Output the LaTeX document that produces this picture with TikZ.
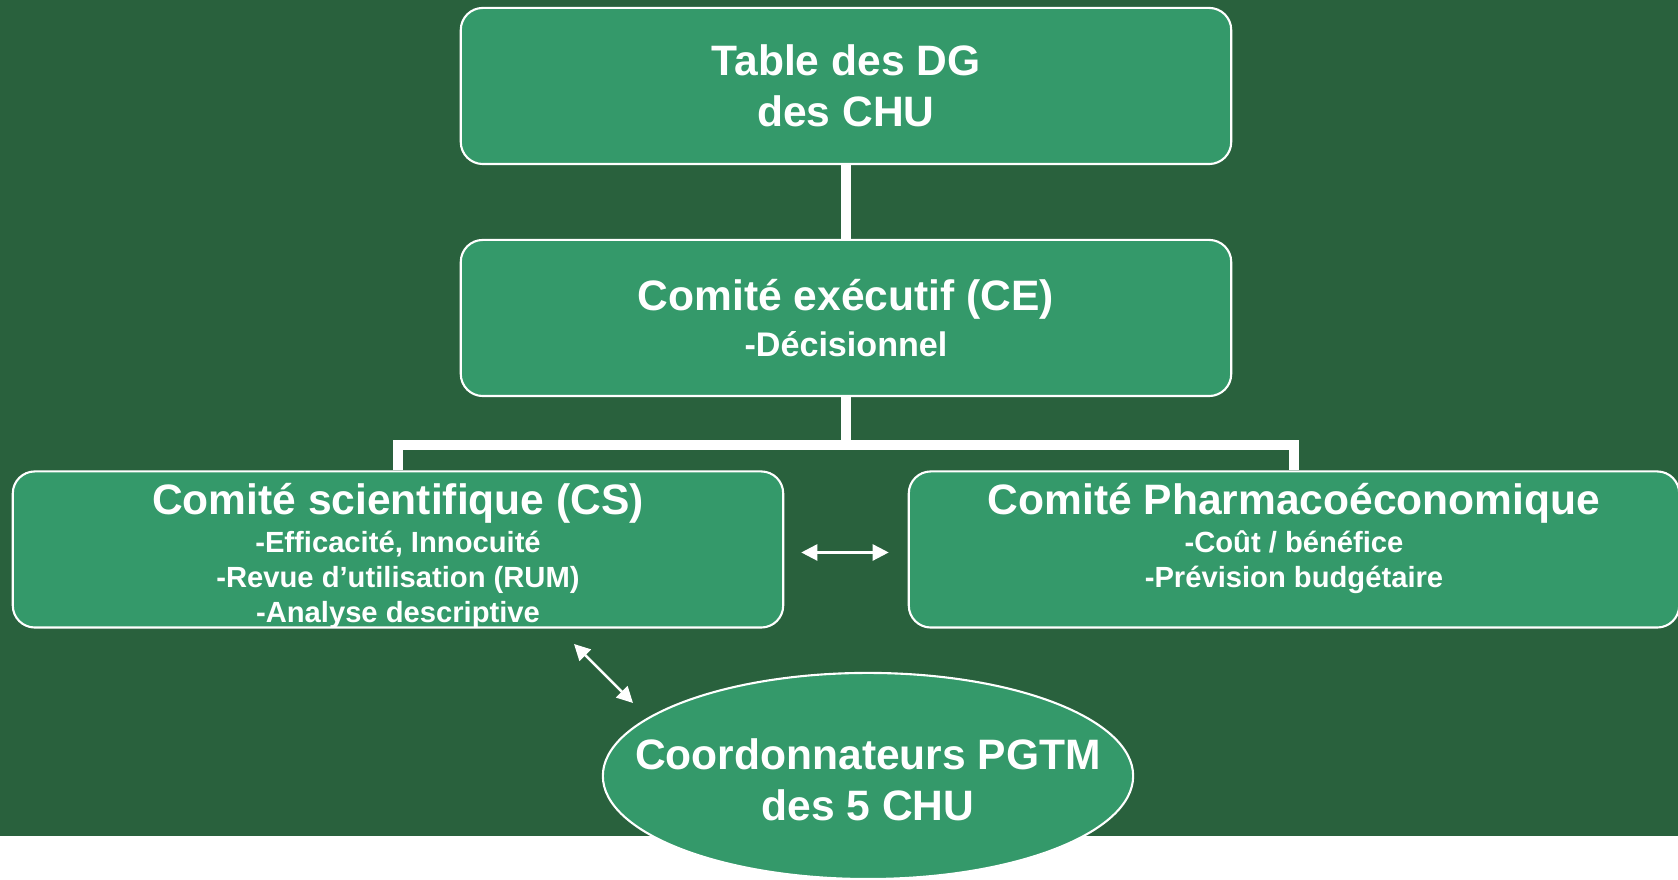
\documentclass[tikz,border=0pt]{standalone}
\usepackage{fontspec}
\setmainfont{Liberation Sans}
\usetikzlibrary{positioning,shapes.geometric,arrows.meta}
\definecolor{darkbg}{RGB}{41,97,61}
\definecolor{boxgreen}{RGB}{52,153,106}
\newcommand{\titlesize}{\fontsize{12.1}{14.5}\selectfont}
\newcommand{\itemsize}{\fontsize{8.3}{10}\selectfont}
\newcommand{\cesize}{\fontsize{9.7}{11.6}\selectfont}
\begin{document}
\begin{tikzpicture}[x=0.01cm,y=0.01cm,
   box/.style={draw=white,line width=0.6pt,fill=boxgreen,rounded corners=0.22cm,
     minimum width=7.7cm,minimum height=1.56cm,inner sep=0pt,
     text=white,align=center,font=\bfseries\titlesize},
   boxtext/.style={text=white,align=center,inner sep=0pt,font=\bfseries\itemsize},
   link/.style={white,line width=2.8pt},
   twoway/.style={white,line width=0.7pt,
     {Triangle[length=0.16cm,width=0.16cm]}-{Triangle[length=0.16cm,width=0.16cm]}}]
   \useasboundingbox (0,0) rectangle (1678,880);
   \fill[white] (0,0) rectangle (1678,880);
   \fill[darkbg] (0,44) rectangle (1678,880);
   % top levels
   \node[box] (dg) at (846,794) {Table des DG\\des CHU};
   \node[box] (ce) at (846,562) {Comité exécutif (CE)\\[-1.4pt]{\cesize -Décisionnel}};
   % committees
   \node[box] (cs) at (398,330.5) {};
   \node[box] (cp) at (1294,330.5) {};
   \node[boxtext,below=0.121cm of cs.north] (cstext)
     {{\titlesize Comité scientifique (CS)}\\[0.7pt]-Efficacité, Innocuité\\-Revue d’utilisation (RUM)\\-Analyse descriptive};
   \node[boxtext,below=0.121cm of cp.north] (cptext)
     {{\titlesize Comité Pharmacoéconomique}\\[0.7pt]-Coût / bénéfice\\-Prévision budgétaire};
   % coordinators
   \node[ellipse,draw=white,line width=0.6pt,fill=boxgreen,minimum width=5.3cm,
     minimum height=2.06cm,inner sep=0pt] (pgtm) at (868,104) {};
   \node[boxtext,font=\bfseries\titlesize] (pgtmtext) at ([yshift=-0.04cm]pgtm.center)
     {Coordonnateurs PGTM\\des 5 CHU};
   \coordinate (fork) at (846,435);
   \coordinate (csfoot) at (574,236);
   \coordinate (pgtmtop) at (633,177);
   \draw[link] (dg) -- (ce);
   \draw[link] (ce.south) -- (fork);
   \draw[link] (cs.north) |- (fork) -| (cp.north);
   \draw[twoway,shorten <=0.17cm,shorten >=0.19cm]
     ([yshift=-0.03cm]cs.east) -- ([yshift=-0.03cm]cp.west);
   \draw[twoway] (csfoot) -- (pgtmtop);
\end{tikzpicture}
\end{document}
